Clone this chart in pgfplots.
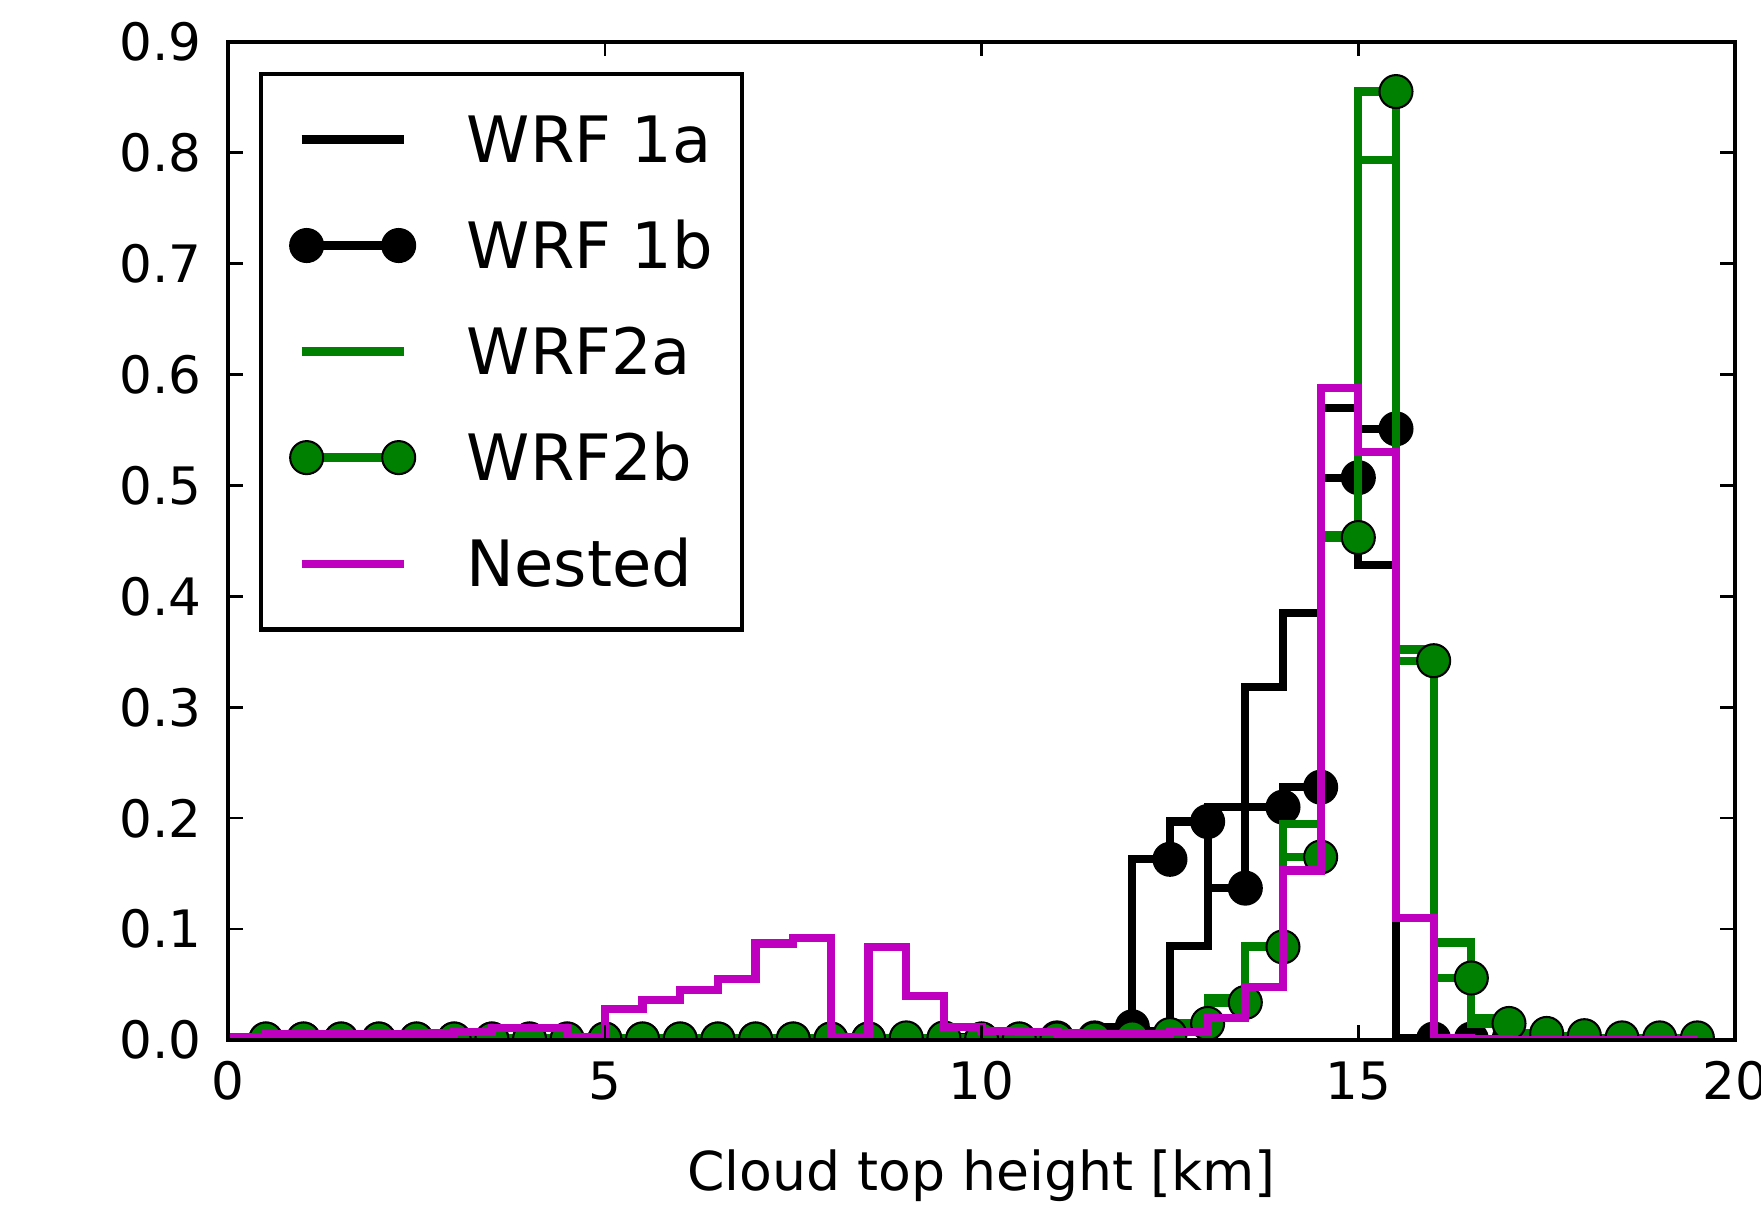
\documentclass[border=0pt]{standalone}
\usepackage{fontspec}
\setmainfont{DejaVu Sans}
\usepackage{pgfplots}
\usepackage{pgfplotstable}
\pgfplotsset{compat=1.18}

\definecolor{mplgreen}{RGB}{0,128,0}
\definecolor{mplmagenta}{RGB}{191,0,191}

% histogram values, indexed by the right edge of each 0.5 km bin
\pgfplotstableread{
x     w1a    w1b    w2a    w2b    nest
0.0   0      0      0      0      0
0.5   0.002  0.001  0.002  0.001  0.003
1.0   0.002  0.001  0.002  0.001  0.005
1.5   0.002  0.001  0.002  0.001  0.005
2.0   0.002  0.001  0.002  0.001  0.005
2.5   0.002  0.001  0.002  0.001  0.005
3.0   0.002  0.001  0.002  0.001  0.006
3.5   0.002  0.001  0.002  0.001  0.007
4.0   0.002  0.001  0.002  0.001  0.011
4.5   0.002  0.001  0.002  0.001  0.011
5.0   0.002  0.001  0.002  0.001  0.003
5.5   0.002  0.001  0.002  0.001  0.028
6.0   0.002  0.001  0.002  0.001  0.036
6.5   0.002  0.001  0.002  0.001  0.045
7.0   0.002  0.001  0.002  0.001  0.055
7.5   0.002  0.001  0.002  0.001  0.087
8.0   0.002  0.001  0.002  0.001  0.092
8.5   0.002  0.001  0.002  0.001  0.003
9.0   0.002  0.001  0.002  0.002  0.084
9.5   0.002  0.001  0.002  0.002  0.040
10.0  0.003  0.001  0.002  0.001  0.012
10.5  0.003  0.001  0.002  0.001  0.008
11.0  0.004  0.002  0.002  0.001  0.007
11.5  0.006  0.002  0.003  0.001  0.006
12.0  0.008  0.012  0.003  0.002  0.005
12.5  0.008  0.163  0.004  0.005  0.005
13.0  0.085  0.197  0.012  0.015  0.007
13.5  0.210  0.137  0.038  0.034  0.020
14.0  0.318  0.210  0.085  0.084  0.048
14.5  0.385  0.228  0.195  0.165  0.153
15.0  0.570  0.507  0.455  0.453  0.588
15.5  0.428  0.551  0.793  0.855  0.530
16.0  0.002  0.001  0.352  0.342  0.110
16.5  0.001  0.001  0.088  0.056  0.002
17.0  0.001  0.001  0.020  0.015  0.001
17.5  0      0      0.005  0.006  0
18.0  0      0      0.003  0.004  0
18.5  0      0      0.002  0.002  0
19.0  0      0      0.001  0.002  0
19.5  0      0      0.001  0.002  0
}\cth

\pgfplotsset{
  lineentry/.style={legend image code/.code={\draw[##1] (0pt,0pt) -- (24.7pt,0pt);}},
  markentry/.style={legend image code/.code={\draw[##1] plot coordinates {(1.2pt,0pt) (23.5pt,0pt)};}},
}

\begin{document}
\begin{tikzpicture}
\begin{axis}[
  name=ax,
  scale only axis,
  width=365.2pt, height=242pt,
  xmin=0, xmax=20, ymin=0, ymax=0.9,
  xtick={0,5,10,15,20},
  ytick={0,0.1,0.2,0.3,0.4,0.5,0.6,0.7,0.8,0.9},
  /pgf/number format/assume math mode=true,
  ticklabel style={font=\fontsize{12.5}{15}\selectfont},
  yticklabel style={/pgf/number format/fixed, /pgf/number format/fixed zerofill,
    /pgf/number format/precision=1},
  xticklabel style={inner sep=0pt, yshift=-5pt},
  yticklabel style={inner sep=0pt, xshift=-6.3pt},
  tick align=inside,
  major tick length=3.6pt,
  tick style={black, line width=0.6pt},
  axis line style={line width=1pt},
  axis on top,
  clip marker paths=true,
  xlabel={Cloud top height [km]},
  xlabel style={font=\fontsize{13}{15}\selectfont, at={(axis description cs:0.5,0)}, anchor=base, yshift=-36.4pt},
  legend cell align=left,
  legend style={
    at={(0.0206,0.970)}, anchor=north west,
    draw=black, line width=1pt, fill=white,
    inner xsep=7pt, inner ysep=10.3pt,
    row sep=14.4pt,
    font=\fontsize{15.5}{18}\selectfont,
    nodes={inner sep=0pt, text height=11.3pt, text depth=0pt},
    /tikz/every odd column/.append style={column sep=12.5pt},
  },
]
\addplot[black, line width=2pt, const plot mark right, mark=none, lineentry]
  table[x=x, y=w1a] {\cth};
\addlegendentry{WRF 1a}
\addplot[black, line width=2pt, const plot mark right, mark=*, mark size=4pt,
  mark options={fill=black, draw=black, line width=0.5pt},
  skip coords between index={0}{1}, markentry]
  table[x=x, y=w1b] {\cth};
\addlegendentry{WRF 1b}
\addplot[mplgreen, line width=2pt, const plot mark right, mark=none, lineentry]
  table[x=x, y=w2a] {\cth};
\addlegendentry{WRF2a}
\addplot[mplgreen, line width=2pt, const plot mark right, mark=*, mark size=4pt,
  mark options={fill=mplgreen, draw=black, line width=0.5pt},
  skip coords between index={0}{1}, markentry]
  table[x=x, y=w2b] {\cth};
\addlegendentry{WRF2b}
\addplot[mplmagenta, line width=2pt, const plot mark right, mark=none, lineentry]
  table[x=x, y=nest] {\cth};
\addlegendentry{Nested}
\end{axis}
% markers are cut at the frame in the reference: mask what falls below the axis
\fill[white] ([xshift=0.5pt,yshift=-0.5pt]ax.south west)
  rectangle ([xshift=-0.5pt,yshift=-4.7pt]ax.south east);
\pgfresetboundingbox
\path[use as bounding box] ([xshift=-55.3pt,yshift=-40.7pt]ax.south west)
  rectangle ([xshift=6.3pt,yshift=10.1pt]ax.north east);
\end{tikzpicture}
\end{document}
